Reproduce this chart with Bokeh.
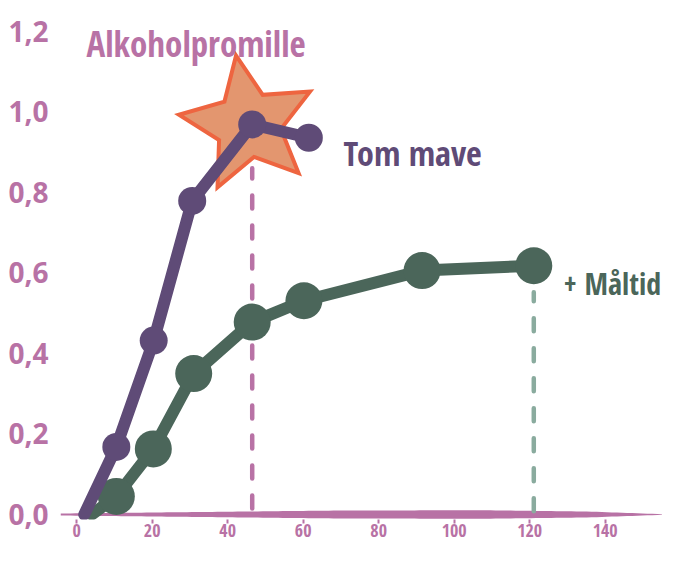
import numpy as np
from bokeh.plotting import figure
from bokeh.models import FixedTicker, CustomJSTickFormatter, Range1d
from bokeh.core.properties import value
from bokeh.embed import file_html
from bokeh.resources import INLINE

# ---- data ----
tom_x = [2, 10.5, 20.4, 30.6, 46.5, 61.5]
tom_y = [0.0, 0.168, 0.432, 0.779, 0.969, 0.936]
mal_x = [4, 10.5, 20.3, 31.0, 46.5, 60.2, 91.5, 121.1]
mal_y = [0.0, 0.045, 0.163, 0.350, 0.478, 0.531, 0.606, 0.618]
x_ticks = [0, 20, 40, 60, 80, 100, 120, 140]
y_ticks = [0.0, 0.2, 0.4, 0.6, 0.8, 1.0, 1.2]
tom_peak_x, tom_peak_y = 46.5, 0.969
mal_peak_x, mal_peak_y = 121.1, 0.618
title_text = "Alkoholpromille"
label_tom = "Tom mave"
label_mal = "+ Måltid"

# ---- colours / fonts ----
PINK = "#b872a5"
PURPLE = "#5f4b77"
GREEN = "#4b665a"
GREEN_DASH = "#8aab9e"
STAR_FILL = "#e3966f"
STAR_LINE = "#ee6540"
COND = "Open Sans Condensed"

# ---- layout ----
W, H = 662, 547
BL, BB = 60, 28
FW, FH = W - BL, H - BB
x0, x1 = -4.29, 155.2
y0, y1 = -0.01242, 1.277
sx = FW / (x1 - x0)
sy = FH / (y1 - y0)

p = figure(width=W, height=H, output_backend="svg", toolbar_location=None,
           x_range=Range1d(x0, x1), y_range=Range1d(y0, y1),
           min_border_left=BL, min_border_right=0, min_border_top=0,
           min_border_bottom=BB, background_fill_color="white",
           border_fill_color="white", outline_line_color=None)
p.grid.visible = False

# y axis
ya = p.yaxis[0]
ya.ticker = FixedTicker(ticks=y_ticks)
ya.formatter = CustomJSTickFormatter(code="return tick.toFixed(1).replace('.', ',')")
ya.axis_line_color = None
ya.major_tick_line_color = None
ya.minor_tick_line_color = None
ya.major_tick_in = 0
ya.major_tick_out = 0
ya.major_label_standoff = 12
ya.major_label_text_font = "Open Sans"
ya.major_label_text_font_style = "bold"
ya.major_label_text_font_size = "28px"
ya.major_label_text_color = PINK

# x axis
xa = p.xaxis[0]
xa.ticker = FixedTicker(ticks=x_ticks)
xa.axis_line_color = None
xa.major_tick_line_color = PINK
xa.major_tick_line_width = 2
xa.major_tick_in = 0
xa.major_tick_out = 4
xa.minor_tick_line_color = None
xa.major_label_standoff = 0
xa.major_label_text_font = COND
xa.major_label_text_font_style = "bold"
xa.major_label_text_font_size = "18px"
xa.major_label_text_color = PINK

# tapered axis line (lens shape)
t = np.linspace(0, 1, 120)
half_px = np.interp(t, [0, 0.25, 0.45, 0.7, 0.88, 1.0], [1.0, 2.6, 3.9, 4.3, 2.9, 0.3])
lx = x0 + t * (x1 - x0)
p.patch(np.concatenate([lx, lx[::-1]]),
        np.concatenate([half_px / sy, -half_px[::-1] / sy]),
        fill_color=PINK, line_color=None)

# dashed drop lines
p.line([tom_peak_x, tom_peak_x], [0.015, 0.86], line_color=PINK, line_width=4.5,
       line_dash="13 17", line_cap="round")
p.line([mal_peak_x, mal_peak_x], [0.008, 0.552], line_color=GREEN_DASH, line_width=4.5,
       line_dash="13 17", line_cap="round")

# green series
p.line(mal_x, mal_y, line_color=GREEN, line_width=12, line_cap="round", line_join="round")
p.scatter(mal_x[1:], mal_y[1:], size=37, fill_color=GREEN, line_color=None)

# star behind the peak
ang = np.deg2rad(100 + 36 * np.arange(10))
rad = np.where(np.arange(10) % 2 == 0, 70.0, 33.0)
cx = tom_peak_x - 4 / sx
cy = tom_peak_y
p.patch(cx + rad * np.cos(ang) / sx, cy + rad * np.sin(ang) / sy,
        fill_color=STAR_FILL, line_color=STAR_LINE, line_width=4, line_join="miter")

# purple series
p.line(tom_x, tom_y, line_color=PURPLE, line_width=12, line_cap="round", line_join="round")
p.scatter(tom_x[1:], tom_y[1:], size=28, fill_color=PURPLE, line_color=None)

# texts
p.text(x=[2.6], y=[1.170], text=[title_text], text_font=value(COND),
       text_font_style="bold", text_font_size="35px", text_color=PINK,
       text_baseline="alphabetic", text_align="left")
p.text(x=[70.7], y=[0.897], text=[label_tom], text_font=value(COND),
       text_font_style="bold", text_font_size="34px", text_color=PURPLE,
       text_baseline="alphabetic", text_align="left")
p.text(x=[129.0], y=[0.574], text=[label_mal], text_font=value(COND),
       text_font_style="bold", text_font_size="30px", text_color=GREEN,
       text_baseline="alphabetic", text_align="left")

open("out.html", "w").write(file_html(p, INLINE))
